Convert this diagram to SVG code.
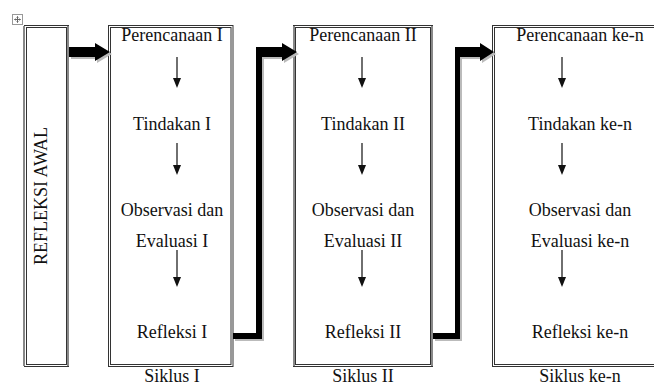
<svg xmlns="http://www.w3.org/2000/svg" width="654" height="385" viewBox="0 0 654 385">
<defs>
<style>
text{font-family:'Liberation Serif','Times New Roman',serif;font-size:18px;fill:#111;text-anchor:middle}
.o{fill:#fff;stroke:#333;stroke-width:1}
.i{fill:none;stroke:#333;stroke-width:1}
.g{fill:none;stroke:#888;stroke-width:2}
.dl{stroke:#111;stroke-width:1.2;fill:none}
.ah{fill:#111}
.big{fill:#000}
.sh{fill:#bbb}
</style>
<polygon id="dh" points="-4,-10 4,-10 0,0"/>
</defs>
<rect width="654" height="385" fill="#fff"/>
<g id="handle">
<rect x="12.5" y="14.5" width="10" height="10" fill="#fff" stroke="#999"/>
<path d="M17.5 16.5v6M14.5 19.5h6" stroke="#666" stroke-width="1"/>
<path d="M16.5 17.5l1-1 1 1M16.5 21.5l1 1 1-1M15.5 18.5l-1 1 1 1M19.5 18.5l1 1-1 1" stroke="#666" stroke-width="0.8" fill="none"/>
</g>
<g id="refleksi-awal">
<rect class="o" x="24.5" y="25.5" width="44" height="341"/>
<rect class="i" x="26.5" y="27.5" width="40" height="337"/>
<path class="g" d="M24 26v340M68 26v340"/>
<text transform="translate(47,196) rotate(-90)">REFLEKSI AWAL</text>
</g>
<g id="siklus-1">
<rect class="o" x="108.5" y="25.5" width="124.5" height="341"/>
<rect class="i" x="110.5" y="27.5" width="120.5" height="337"/>
<text x="172" y="41">Perencanaan I</text>
<text x="172" y="130">Tindakan I</text>
<text x="172" y="216">Observasi dan</text>
<text x="172" y="247">Evaluasi I</text>
<text x="172" y="338">Refleksi I</text>
<text x="172" y="382">Siklus I</text>
<path class="dl" d="M177 57v22M177 143v22M177 250v27"/>
<use href="#dh" class="ah" x="177" y="88"/>
<use href="#dh" class="ah" x="177" y="175"/>
<use href="#dh" class="ah" x="177" y="287"/>
</g>
<g id="siklus-2">
<rect class="o" x="293.5" y="25.5" width="139" height="341"/>
<rect class="i" x="295.5" y="27.5" width="135" height="337"/>
<path class="g" d="M294 26v340M432 26v340"/>
<text x="363" y="41">Perencanaan II</text>
<text x="363" y="130">Tindakan II</text>
<text x="363" y="216">Observasi dan</text>
<text x="363" y="247">Evaluasi II</text>
<text x="363" y="338">Refleksi II</text>
<text x="363" y="382">Siklus II</text>
<path class="dl" d="M362 57v22M362 143v22M362 250v27"/>
<use href="#dh" class="ah" x="362" y="88"/>
<use href="#dh" class="ah" x="362" y="175"/>
<use href="#dh" class="ah" x="362" y="287"/>
</g>
<g id="siklus-n">
<rect class="o" x="492.5" y="25.5" width="180" height="341"/>
<rect class="i" x="494.5" y="27.5" width="176" height="337"/>
<text x="580" y="41">Perencanaan ke-n</text>
<text x="580" y="130">Tindakan ke-n</text>
<text x="580" y="216">Observasi dan</text>
<text x="580" y="247">Evaluasi ke-n</text>
<text x="580" y="338">Refleksi ke-n</text>
<text x="580" y="382">Siklus ke-n</text>
<path class="dl" d="M562 57v22M562 143v22M562 250v27"/>
<use href="#dh" class="ah" x="562" y="88"/>
<use href="#dh" class="ah" x="562" y="175"/>
<use href="#dh" class="ah" x="562" y="287"/>
</g>
<g id="connectors">
<polygon class="sh" points="71,49 97,49 97,45 112,54 97,63 97,59 71,59"/>
<polygon class="big" points="69,47 95,47 95,43 110,52 95,61 95,57 69,57"/>
<polygon class="sh" points="235,335 258,335 258,49 284,49 284,45 299,54 284,63 284,59 264,59 264,341 235,341"/>
<polygon class="big" points="233,333 256,333 256,47 282,47 282,43 297,52 282,61 282,57 262,57 262,339 233,339"/>
<polygon class="sh" points="435,335 457,335 457,49 482,49 482,45 496,54 482,63 482,59 462,59 462,341 435,341"/>
<polygon class="big" points="433,333 455,333 455,47 480,47 480,43 494,52 480,61 480,57 460,57 460,339 433,339"/>
</g>
</svg>
